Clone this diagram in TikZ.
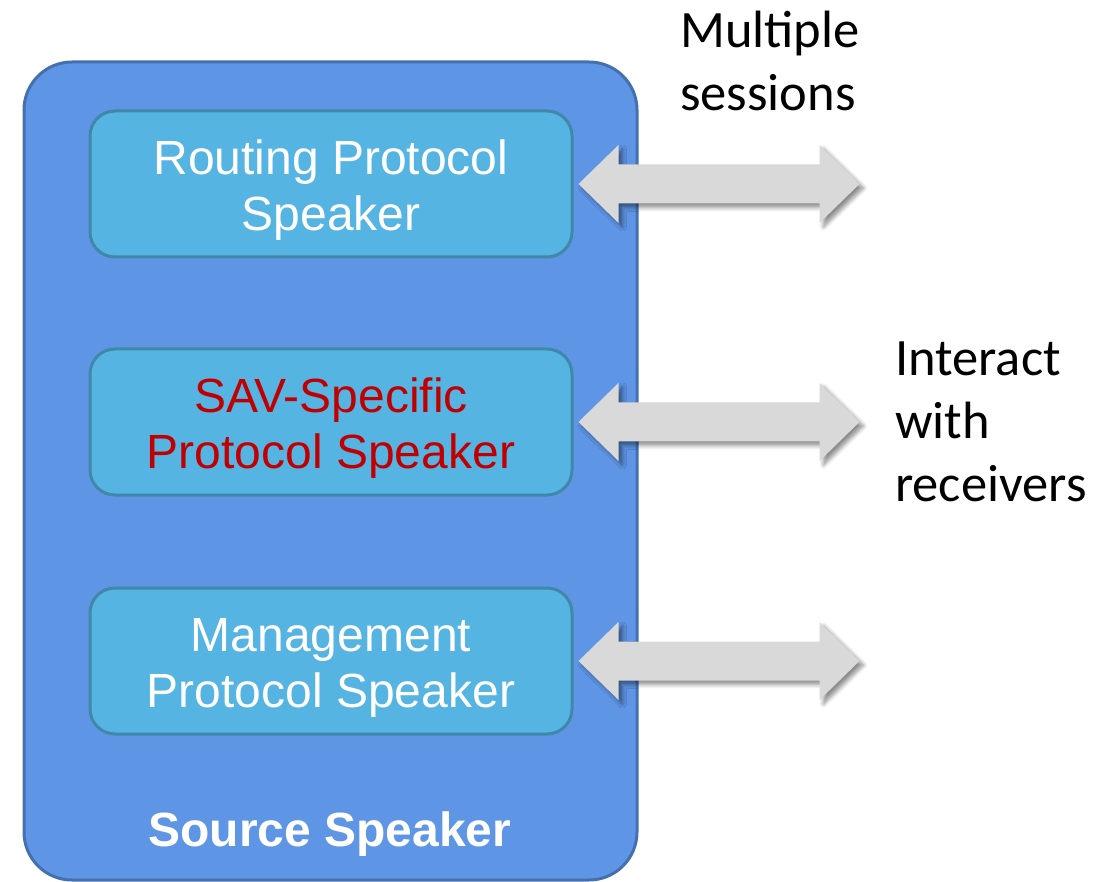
\documentclass[tikz,border=0pt]{standalone}
\usepackage{fontspec}
\setmainfont{Liberation Sans}
\newfontfamily\notefont{Carlito}
\usetikzlibrary{calc,shadows.blur}

\definecolor{outerfill}{RGB}{95,149,229}
\definecolor{outerline}{RGB}{68,112,176}
\definecolor{innerfill}{RGB}{86,180,227}
\definecolor{innerline}{RGB}{64,136,170}
\definecolor{arrowfill}{RGB}{217,217,217}
\definecolor{speakerred}{RGB}{192,0,0}

\tikzset{
  outerbox/.style={draw=outerline, line width=3pt, fill=outerfill,
    rounded corners=48pt},
  innerbox/.style={draw=innerline, line width=3pt, fill=innerfill,
    rounded corners=25pt, minimum width=482pt, minimum height=146pt,
    align=center, text=white, font=\fontsize{48}{56}\selectfont},
  notetext/.style={anchor=north west, inner sep=0pt, align=left,
    font=\notefont\fontsize{52.5}{63}\selectfont},
  blockarrow/.style={fill=arrowfill, draw=none,
    blur shadow={shadow xshift=4pt, shadow yshift=-4pt,
      shadow blur radius=4pt, shadow blur steps=6, shadow opacity=45}},
}

% strut that lowers a two-line label a little inside its box
\newcommand{\lowstrut}{\rule{0pt}{47pt}}

% one double-headed block arrow starting at a box's east side
\newcommand{\sidearrow}[1]{%
  \path[blockarrow] ($(#1.east)+(5,0)$) -- ++(40,-39) -- ++(0,19.5)
    -- ++(201,0) -- ++(0,-19.5) -- ++(40,39) -- ++(-40,39) -- ++(0,-19.5)
    -- ++(-201,0) -- ++(0,19.5) -- cycle;}

\begin{document}
\begin{tikzpicture}[x=1pt,y=-1pt]
  \useasboundingbox (0,0) rectangle (1114,882);

  % source speaker container
  \draw[outerbox] (24,62) rectangle (637,880);
  \node[text=white, font=\bfseries\fontsize{48}{56}\selectfont]
    (src) at (330,834) {Source Speaker};

  % protocol speakers
  \node[innerbox] (rp)  at (331,184) {\lowstrut Routing Protocol\\Speaker};
  \node[innerbox, text=speakerred] (sav) at (331,422)
    {\lowstrut SAV-Specific\\Protocol Speaker};
  \node[innerbox] (mgmt) at (331,661)
    {\lowstrut Management\\Protocol Speaker};

  % sessions towards receivers
  \sidearrow{rp}
  \sidearrow{sav}
  \sidearrow{mgmt}

  % annotations
  \node[notetext] (multi) at (680,11) {Multiple\\sessions};
  \node[notetext] (inter) at (895,342) {Interact\\with\\receivers};
\end{tikzpicture}
\end{document}
